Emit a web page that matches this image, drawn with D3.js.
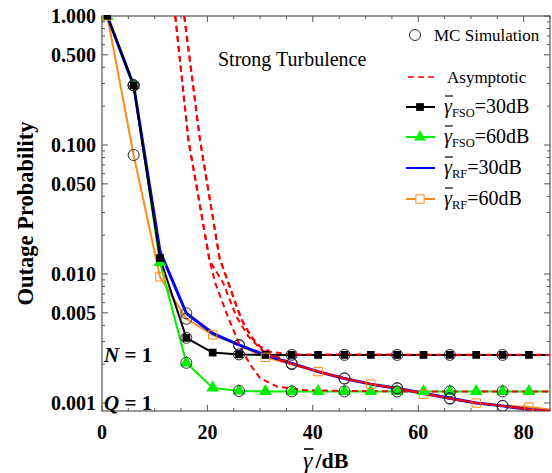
<!DOCTYPE html>
<html>
<head>
<meta charset="utf-8">
<script src="https://cdn.jsdelivr.net/npm/d3@7"></script>
<style>
  html, body { margin: 0; padding: 0; background: #fff; }
  svg { display: block; }
  text { font-family: "Liberation Serif", "Times New Roman", "DejaVu Serif", serif; }
</style>
</head>
<body>
<svg id="chart" width="552" height="473"></svg>
<script>
// Average SNR (dB) at which each curve is evaluated
const snr = [1, 6, 11, 16, 21, 26, 31, 36, 41, 46, 51, 56, 61, 66, 71, 76, 81, 86];

// Outage probability, analytical curves
const fso30 = [1.0, 0.29, 0.0133, 0.0032, 0.00246, 0.00238, 0.00236, 0.00236, 0.00236, 0.00236, 0.00236, 0.00236, 0.00236, 0.00236, 0.00236, 0.00236, 0.00236, 0.00236];
const fso60 = [1.0, 0.29, 0.0123, 0.00205, 0.00131, 0.00124, 0.00123, 0.00123, 0.00123, 0.00123, 0.00123, 0.00123, 0.00123, 0.00123, 0.00123, 0.00123, 0.00123, 0.00123];
const rf30  = [1.0, 0.29, 0.0150, 0.00496, 0.00347, 0.00282, 0.00235, 0.00203, 0.00175, 0.00155, 0.00140, 0.00130, 0.00119, 0.00109, 0.00100, 0.00095, 0.00089, 0.00085];
const rf60  = [1.0, 0.0836, 0.0095, 0.0045, 0.00337, 0.00280, 0.00226, 0.00200, 0.00175, 0.00155, 0.00140, 0.00130, 0.00117, 0.00108, 0.00100, 0.00095, 0.00093, 0.00088];

// Monte Carlo points are taken every 10 dB
const mcSnr = [6, 16, 26, 36, 46, 56, 66, 76];

// High-SNR asymptotes: [snr, probability]
const asymFso60 = [[13.9, 1.0], [16.4, 0.109], [20.4, 0.0128], [21.5, 0.0085], [23.9, 0.00464], [26.5, 0.00258], [28.4, 0.00191], [30.0, 0.00156], [33.2, 0.00134], [38.2, 0.00126], [46, 0.00124], [56, 0.00123], [86, 0.00123]];
const asymFso30 = [[15.6, 1.0], [18.6, 0.109], [22.3, 0.0133], [24.5, 0.0075], [26.2, 0.00467], [28.2, 0.0033], [30.0, 0.00273], [31.9, 0.0025], [36, 0.00238], [86, 0.00236]];
const asymRf30  = [[15.6, 1.0], [18.6, 0.109], [22.3, 0.0133], [24.8, 0.0068], [26.8, 0.00415], [28.7, 0.0031], [30.6, 0.00258], [33.2, 0.00229], [36, 0.00203], [41, 0.00175], [46, 0.00155], [51, 0.0014], [56, 0.0013], [61, 0.00119], [66, 0.00109], [71, 0.001], [76, 0.00095], [81, 0.00089], [86, 0.00085]];
const asymRf60  = [[13.9, 1.0], [16.4, 0.109], [20.4, 0.0128], [23.0, 0.0085], [25.5, 0.00467], [27.8, 0.00327], [30.3, 0.00258], [33.0, 0.0022], [36, 0.002], [41, 0.00175], [46, 0.00155], [51, 0.0014], [56, 0.0013], [61, 0.00118], [66, 0.00108], [71, 0.001], [76, 0.00095], [81, 0.0009], [86, 0.00086]];

// Axis ticks
const yMajor = [1, 0.5, 0.1, 0.05, 0.01, 0.005, 0.001];
const xMajor = [0, 20, 40, 60, 80];

const svg = d3.select("#chart");
const W = 552, H = 473;
const L = 102, R = 550, T = 16, B = 411;

svg.append("rect").attr("width", W).attr("height", H).attr("fill", "#fff");

const x = d3.scaleLinear().domain([0, 85]).range([L, R]);
const y = d3.scaleLog().domain([0.000867, 1]).range([B, T]);

svg.append("defs").append("clipPath").attr("id", "plotClip")
  .append("rect").attr("x", L).attr("y", T - 1).attr("width", R - L).attr("height", B - T + 1);

// ---- frame and ticks ----
const frame = svg.append("g");
const frameColor = "#555";

// y minor ticks: 2..9 in every decade
const yMinor = [];
[0.001, 0.01, 0.1].forEach(d => { for (let k = 2; k <= 9; k++) { const v = +(d * k).toPrecision(3); if (!yMajor.includes(v)) yMinor.push(v); } });
const xMinor = d3.range(0, 86, 5).filter(v => !xMajor.includes(v));

function drawTicks(vals, len) {
  vals.forEach(v => {
    const yy = y(v);
    frame.append("line").attr("x1", L).attr("x2", L + len).attr("y1", yy).attr("y2", yy).attr("stroke", frameColor);
    frame.append("line").attr("x1", R).attr("x2", R - len).attr("y1", yy).attr("y2", yy).attr("stroke", frameColor);
  });
}
drawTicks(yMajor, 6);
drawTicks(yMinor, 3);
function drawXTicks(vals, len) {
  vals.forEach(v => {
    const xx = x(v);
    frame.append("line").attr("x1", xx).attr("x2", xx).attr("y1", B).attr("y2", B - len).attr("stroke", frameColor);
    frame.append("line").attr("x1", xx).attr("x2", xx).attr("y1", T).attr("y2", T + len).attr("stroke", frameColor);
  });
}
drawXTicks(xMajor, 6);
drawXTicks(xMinor, 3);

frame.append("rect").attr("x", L).attr("y", T).attr("width", R - L).attr("height", B - T)
  .attr("fill", "none").attr("stroke", frameColor).attr("stroke-width", 1.2);

// tick labels
svg.append("g").selectAll("text").data(yMajor).join("text")
  .attr("x", L - 6).attr("y", d => y(d)).attr("dy", "0.35em")
  .attr("text-anchor", "end").attr("font-size", 20).attr("font-weight", "bold")
  .text(d => d3.format(".3f")(d));

svg.append("g").selectAll("text").data(xMajor).join("text")
  .attr("x", d => x(d)).attr("y", 439)
  .attr("text-anchor", "middle").attr("font-size", 20).attr("font-weight", "bold")
  .text(d => d);

// axis titles
svg.append("text").attr("transform", `translate(33,${(T + B) / 2}) rotate(-90)`)
  .attr("text-anchor", "middle").attr("font-size", 22.5).attr("font-weight", "bold")
  .text("Outage Probability");

const xt = svg.append("text").attr("x", 303).attr("y", 468).attr("font-size", 22).attr("font-weight", "bold");
xt.append("tspan").attr("font-style", "italic").attr("font-weight", "normal").attr("font-size", 24).text("γ");
xt.append("tspan").attr("dx", 3).text("/dB");
{
  const w = xt.node().getSubStringLength(0, 1);
  svg.append("line").attr("x1", 304).attr("x2", 303 + w + 1).attr("y1", 449).attr("y2", 449).attr("stroke", "#000").attr("stroke-width", 1.6);
}

// ---- data ----
const plot = svg.append("g").attr("clip-path", "url(#plotClip)");
const line = d3.line().x(d => x(d[0])).y(d => y(d[1]));
const pairs = arr => snr.map((s, i) => [s, arr[i]]);

const series = [
  { name: "fso30", vals: fso30, color: "#000000", width: 2 },
  { name: "fso60", vals: fso60, color: "#00ee00", width: 2 },
  { name: "rf60", vals: rf60, color: "#ff8c1a", width: 2 },
  { name: "rf30", vals: rf30, color: "#0000ff", width: 3 }
];

// solid curves, back to front
["rf60", "fso60", "rf30", "fso30"].forEach(n => {
  const s = series.find(d => d.name === n);
  plot.append("path").datum(pairs(s.vals)).attr("d", line)
    .attr("fill", "none").attr("stroke", s.color).attr("stroke-width", s.width).attr("stroke-linejoin", "round");
});

// asymptotes
[asymFso60, asymRf60, asymFso30, asymRf30].forEach(a => {
  plot.append("path").datum(a).attr("d", line)
    .attr("fill", "none").attr("stroke", "#ff0000").attr("stroke-width", 2)
    .attr("stroke-dasharray", "6,4");
});

// markers
const sq = d3.symbol().type(d3.symbolSquare).size(60);
const tri = d3.symbol().type(d3.symbolTriangle).size(70);

plot.append("g").selectAll("path").data(pairs(fso60)).join("path")
  .attr("d", tri).attr("transform", d => `translate(${x(d[0])},${y(d[1])})`).attr("fill", "#00ee00");
plot.append("g").selectAll("path").data(pairs(fso30)).join("path")
  .attr("d", sq).attr("transform", d => `translate(${x(d[0])},${y(d[1])})`).attr("fill", "#000");
plot.append("g").selectAll("path").data(pairs(rf60).filter((d, i) => i % 2 === 0)).join("path")
  .attr("d", d3.symbol().type(d3.symbolSquare).size(70))
  .attr("transform", d => `translate(${x(d[0])},${y(d[1])})`)
  .attr("fill", "none").attr("stroke", "#ff8c1a").attr("stroke-width", 1);

// Monte Carlo circles
const mcPts = [];
[fso30, fso60, rf30, rf60].forEach(arr => {
  pairs(arr).forEach(d => { if (mcSnr.includes(d[0])) mcPts.push(d); });
});
plot.append("g").selectAll("circle").data(mcPts).join("circle")
  .attr("cx", d => x(d[0])).attr("cy", d => y(d[1])).attr("r", 5.5)
  .attr("fill", "none").attr("stroke", "#2a2a3a").attr("stroke-width", 1);

// ---- annotations ----
svg.append("text").attr("x", 218).attr("y", 66).attr("font-size", 20).text("Strong Turbulence");

const nq = [["N", 362], ["Q", 410]];
nq.forEach(([v, yy]) => {
  const t = svg.append("text").attr("x", 104).attr("y", yy).attr("font-size", 21).attr("font-weight", "bold");
  t.append("tspan").attr("font-style", "italic").text(v);
  t.append("tspan").text(" = 1");
});

// ---- legend ----
const lg = svg.append("g");
lg.append("circle").attr("cx", 415).attr("cy", 35).attr("r", 5.5).attr("fill", "none").attr("stroke", "#2a2a3a");
lg.append("text").attr("x", 434).attr("y", 41).attr("font-size", 17).text("MC Simulation");

lg.append("line").attr("x1", 408).attr("x2", 438).attr("y1", 77).attr("y2", 77)
  .attr("stroke", "#ff0000").attr("stroke-width", 1.6).attr("stroke-dasharray", "6,4");
lg.append("text").attr("x", 447).attr("y", 83).attr("font-size", 17).text("Asymptotic");

const legendRows = [
  { sub: "FSO", val: "=30dB", color: "#000", yy: 107, mark: "sq" },
  { sub: "FSO", val: "=60dB", color: "#00ee00", yy: 137, mark: "tri" },
  { sub: "RF", val: "=30dB", color: "#0000ff", yy: 168, mark: null },
  { sub: "RF", val: "=60dB", color: "#ff8c1a", yy: 199, mark: "open" }
];
legendRows.forEach(r => {
  lg.append("line").attr("x1", 406).attr("x2", 435).attr("y1", r.yy).attr("y2", r.yy)
    .attr("stroke", r.color).attr("stroke-width", 2);
  if (r.mark === "sq") lg.append("path").attr("d", d3.symbol().type(d3.symbolSquare).size(60)).attr("transform", `translate(420,${r.yy})`).attr("fill", r.color);
  if (r.mark === "tri") lg.append("path").attr("d", d3.symbol().type(d3.symbolTriangle).size(60)).attr("transform", `translate(420,${r.yy})`).attr("fill", r.color);
  if (r.mark === "open") lg.append("path").attr("d", d3.symbol().type(d3.symbolSquare).size(70)).attr("transform", `translate(420,${r.yy})`).attr("fill", "#fff").attr("stroke", r.color);
  const t = lg.append("text").attr("x", 444).attr("y", r.yy + 6).attr("font-size", 20);
  t.append("tspan").attr("font-style", "italic").text("γ");
  t.append("tspan").attr("font-size", 12.5).attr("dy", 4).text(r.sub);
  t.append("tspan").attr("dy", -4).attr("font-size", 20).text(r.val);
  const w = t.node().getSubStringLength(0, 1);
  lg.append("line").attr("x1", 445).attr("x2", 444 + w + 1).attr("y1", r.yy - 11).attr("y2", r.yy - 11)
    .attr("stroke", "#000").attr("stroke-width", 1.2);
});
</script>
</body>
</html>
